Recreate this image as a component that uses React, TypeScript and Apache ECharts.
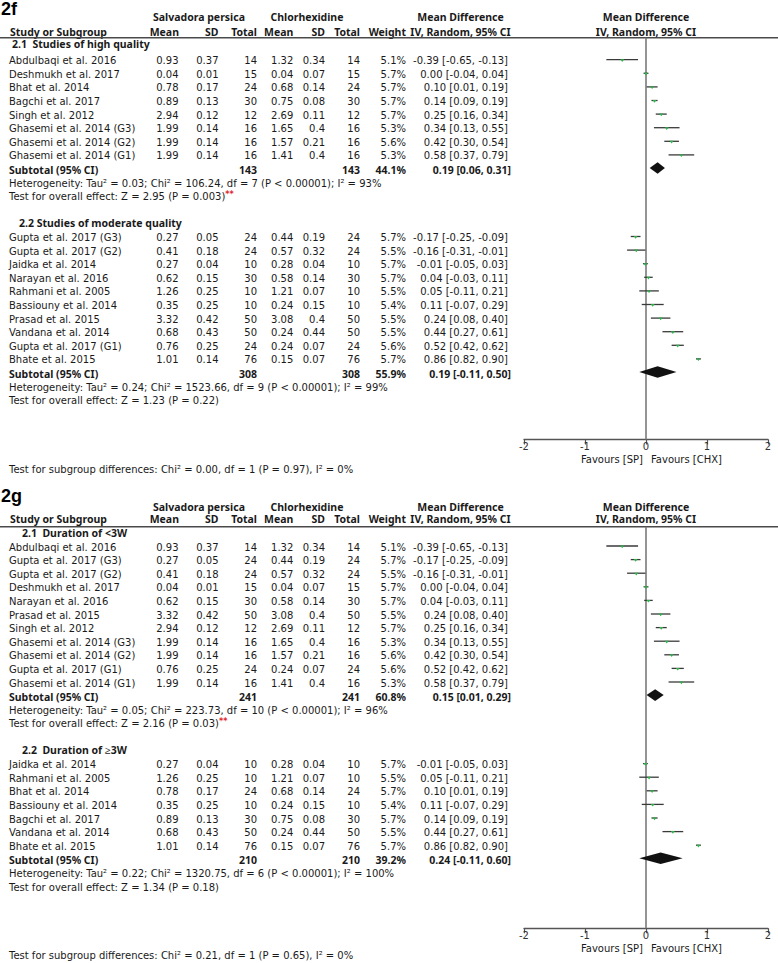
import React, { useEffect, useRef } from "react";
import * as echarts from "echarts";

// name, SP mean, SP SD, SP total, CHX mean, CHX SD, CHX total, weight %, MD, CI low, CI high
type Study = [string, number, number, number, number, number, number, number, number, number, number];
// SP total, CHX total, weight %, MD, CI low, CI high
type Sub = [number, number, number, number, number, number];

const fHighStudies: Study[] = [
  ["Abdulbaqi et al. 2016", 0.93, 0.37, 14, 1.32, 0.34, 14, 5.1, -0.39, -0.65, -0.13],
  ["Deshmukh et al. 2017", 0.04, 0.01, 15, 0.04, 0.07, 15, 5.7, 0.0, -0.04, 0.04],
  ["Bhat et al. 2014", 0.78, 0.17, 24, 0.68, 0.14, 24, 5.7, 0.1, 0.01, 0.19],
  ["Bagchi et al. 2017", 0.89, 0.13, 30, 0.75, 0.08, 30, 5.7, 0.14, 0.09, 0.19],
  ["Singh et al. 2012", 2.94, 0.12, 12, 2.69, 0.11, 12, 5.7, 0.25, 0.16, 0.34],
  ["Ghasemi et al. 2014 (G3)", 1.99, 0.14, 16, 1.65, 0.4, 16, 5.3, 0.34, 0.13, 0.55],
  ["Ghasemi et al. 2014 (G2)", 1.99, 0.14, 16, 1.57, 0.21, 16, 5.6, 0.42, 0.3, 0.54],
  ["Ghasemi et al. 2014 (G1)", 1.99, 0.14, 16, 1.41, 0.4, 16, 5.3, 0.58, 0.37, 0.79],
];
const fHighSubtotal: Sub = [143, 143, 44.1, 0.19, 0.06, 0.31];
const fHighStats = [
  "Heterogeneity: Tau² = 0.03; Chi² = 106.24, df = 7 (P < 0.00001); I² = 93%",
  "Test for overall effect: Z = 2.95 (P = 0.003)",
];

const fModStudies: Study[] = [
  ["Gupta et al. 2017 (G3)", 0.27, 0.05, 24, 0.44, 0.19, 24, 5.7, -0.17, -0.25, -0.09],
  ["Gupta et al. 2017 (G2)", 0.41, 0.18, 24, 0.57, 0.32, 24, 5.5, -0.16, -0.31, -0.01],
  ["Jaidka et al. 2014", 0.27, 0.04, 10, 0.28, 0.04, 10, 5.7, -0.01, -0.05, 0.03],
  ["Narayan et al. 2016", 0.62, 0.15, 30, 0.58, 0.14, 30, 5.7, 0.04, -0.03, 0.11],
  ["Rahmani et al. 2005", 1.26, 0.25, 10, 1.21, 0.07, 10, 5.5, 0.05, -0.11, 0.21],
  ["Bassiouny et al. 2014", 0.35, 0.25, 10, 0.24, 0.15, 10, 5.4, 0.11, -0.07, 0.29],
  ["Prasad et al. 2015", 3.32, 0.42, 50, 3.08, 0.4, 50, 5.5, 0.24, 0.08, 0.4],
  ["Vandana et al. 2014", 0.68, 0.43, 50, 0.24, 0.44, 50, 5.5, 0.44, 0.27, 0.61],
  ["Gupta et al. 2017 (G1)", 0.76, 0.25, 24, 0.24, 0.07, 24, 5.6, 0.52, 0.42, 0.62],
  ["Bhate et al. 2015", 1.01, 0.14, 76, 0.15, 0.07, 76, 5.7, 0.86, 0.82, 0.9],
];
const fModSubtotal: Sub = [308, 308, 55.9, 0.19, -0.11, 0.5];
const fModStats = [
  "Heterogeneity: Tau² = 0.24; Chi² = 1523.66, df = 9 (P < 0.00001); I² = 99%",
  "Test for overall effect: Z = 1.23 (P = 0.22)",
];
const fSubgroupDiff = "Test for subgroup differences: Chi² = 0.00, df = 1 (P = 0.97), I² = 0%";

const gShortStudies: Study[] = [
  ["Abdulbaqi et al. 2016", 0.93, 0.37, 14, 1.32, 0.34, 14, 5.1, -0.39, -0.65, -0.13],
  ["Gupta et al. 2017 (G3)", 0.27, 0.05, 24, 0.44, 0.19, 24, 5.7, -0.17, -0.25, -0.09],
  ["Gupta et al. 2017 (G2)", 0.41, 0.18, 24, 0.57, 0.32, 24, 5.5, -0.16, -0.31, -0.01],
  ["Deshmukh et al. 2017", 0.04, 0.01, 15, 0.04, 0.07, 15, 5.7, 0.0, -0.04, 0.04],
  ["Narayan et al. 2016", 0.62, 0.15, 30, 0.58, 0.14, 30, 5.7, 0.04, -0.03, 0.11],
  ["Prasad et al. 2015", 3.32, 0.42, 50, 3.08, 0.4, 50, 5.5, 0.24, 0.08, 0.4],
  ["Singh et al. 2012", 2.94, 0.12, 12, 2.69, 0.11, 12, 5.7, 0.25, 0.16, 0.34],
  ["Ghasemi et al. 2014 (G3)", 1.99, 0.14, 16, 1.65, 0.4, 16, 5.3, 0.34, 0.13, 0.55],
  ["Ghasemi et al. 2014 (G2)", 1.99, 0.14, 16, 1.57, 0.21, 16, 5.6, 0.42, 0.3, 0.54],
  ["Gupta et al. 2017 (G1)", 0.76, 0.25, 24, 0.24, 0.07, 24, 5.6, 0.52, 0.42, 0.62],
  ["Ghasemi et al. 2014 (G1)", 1.99, 0.14, 16, 1.41, 0.4, 16, 5.3, 0.58, 0.37, 0.79],
];
const gShortSubtotal: Sub = [241, 241, 60.8, 0.15, 0.01, 0.29];
const gShortStats = [
  "Heterogeneity: Tau² = 0.05; Chi² = 223.73, df = 10 (P < 0.00001); I² = 96%",
  "Test for overall effect: Z = 2.16 (P = 0.03)",
];

const gLongStudies: Study[] = [
  ["Jaidka et al. 2014", 0.27, 0.04, 10, 0.28, 0.04, 10, 5.7, -0.01, -0.05, 0.03],
  ["Rahmani et al. 2005", 1.26, 0.25, 10, 1.21, 0.07, 10, 5.5, 0.05, -0.11, 0.21],
  ["Bhat et al. 2014", 0.78, 0.17, 24, 0.68, 0.14, 24, 5.7, 0.1, 0.01, 0.19],
  ["Bassiouny et al. 2014", 0.35, 0.25, 10, 0.24, 0.15, 10, 5.4, 0.11, -0.07, 0.29],
  ["Bagchi et al. 2017", 0.89, 0.13, 30, 0.75, 0.08, 30, 5.7, 0.14, 0.09, 0.19],
  ["Vandana et al. 2014", 0.68, 0.43, 50, 0.24, 0.44, 50, 5.5, 0.44, 0.27, 0.61],
  ["Bhate et al. 2015", 1.01, 0.14, 76, 0.15, 0.07, 76, 5.7, 0.86, 0.82, 0.9],
];
const gLongSubtotal: Sub = [210, 210, 39.2, 0.24, -0.11, 0.6];
const gLongStats = [
  "Heterogeneity: Tau² = 0.22; Chi² = 1320.75, df = 6 (P < 0.00001); I² = 100%",
  "Test for overall effect: Z = 1.34 (P = 0.18)",
];
const gSubgroupDiff = "Test for subgroup differences: Chi² = 0.21, df = 1 (P = 0.65), I² = 0%";

const axisMin = -2;
const axisMax = 2;
const axisInterval = 1;
const favoursLeft = "Favours [SP]";
const favoursRight = "Favours [CHX]";

// ---------- layout ----------
const FONT = "DejaVu Sans";
const BFONT = "Noto Sans";
const FS = 10;
const BFS = 10.5;
const LH = 11;
const TXT = "#1a1a1a";
const COL = { name: 9, spMean: 178.5, spSD: 218.5, spN: 257, chxMean: 293.3, chxSD: 325, chxN: 360, weight: 406, ci: 508, ciBold: 511 };
const PLOT_L = 524;
const PLOT_R = 768;

interface Group {
  title: string; titleX: number; titleR: number; start: number;
  studies: Study[]; sub: Sub; stats: string[]; star: boolean;
}
interface Panel {
  label: string; lineY: number; y0: number; step: number; axisY: number;
  labelY: number; grpY: number; colY: number; diffY: number; diff: string; groups: Group[];
}

const panels: Panel[] = [
  {
    label: "2f", lineY: 37.7, y0: 60.7, step: 13.6, axisY: 439.5, labelY: 9, grpY: 17.3, colY: 31.5,
    diffY: 469, diff: fSubgroupDiff,
    groups: [
      { title: "2.1  Studies of high quality", titleX: 12, titleR: -1.25, start: 0, studies: fHighStudies, sub: fHighSubtotal, stats: fHighStats, star: true },
      { title: "2.2 Studies of moderate quality", titleX: 19, titleR: 11.93, start: 13, studies: fModStudies, sub: fModSubtotal, stats: fModStats, star: false },
    ],
  },
  {
    label: "2g", lineY: 526.7, y0: 547, step: 13.6, axisY: 928.3, labelY: 496, grpY: 506.7, colY: 519.3,
    diffY: 955, diff: gSubgroupDiff,
    groups: [
      { title: "2.1  Duration of <3W", titleX: 22, titleR: -1.0, start: 0, studies: gShortStudies, sub: gShortSubtotal, stats: gShortStats, star: true },
      { title: "2.2  Duration of ≥3W", titleX: 22, titleR: 14.93, start: 16, studies: gLongStudies, sub: gLongSubtotal, stats: gLongStats, star: false },
    ],
  },
];

const f2 = (v: number) => v.toFixed(2);
const ciText = (md: number, lo: number, hi: number) => `${f2(md)} [${f2(lo)}, ${f2(hi)}]`;

function txt(x: number, y: number, text: string, align: string, bold = false, extra: any = {}) {
  return {
    type: "text",
    x,
    y,
    silent: true,
    style: {
      text,
      fill: TXT,
      font: bold ? `bold ${BFS}px "${BFONT}"` : `${FS}px "${FONT}"`,
      lineHeight: LH,
      align,
      textAlign: align,
      verticalAlign: "middle",
      textVerticalAlign: "middle",
      ...extra,
    },
  };
}

function buildOption() {
  const graphics: any[] = [];
  const grids: any[] = [];
  const xAxes: any[] = [];
  const yAxes: any[] = [];
  const series: any[] = [];

  panels.forEach((p, pi) => {
    const rowY = (r: number) => p.y0 + r * p.step;
    const yMin = (p.lineY - p.y0) / p.step;
    const yMax = (p.axisY - p.y0) / p.step;

    // panel label
    graphics.push({
      type: "text", x: 1, y: p.labelY, silent: true,
      style: { text: p.label, fill: "#000", font: 'bold 18px "Liberation Sans"', lineHeight: 16, align: "left", textAlign: "left", verticalAlign: "middle", textVerticalAlign: "middle" },
    });
    // headers
    graphics.push(txt(199, p.grpY, "Salvadora persica", "center", true));
    graphics.push(txt(307, p.grpY, "Chlorhexidine", "center", true));
    graphics.push(txt(460.5, p.grpY, "Mean Difference", "center", true));
    graphics.push(txt(646, p.grpY, "Mean Difference", "center", true));
    graphics.push(txt(10, p.colY, "Study or Subgroup", "left", true));
    graphics.push(txt(179, p.colY, "Mean", "right", true));
    graphics.push(txt(218.5, p.colY, "SD", "right", true));
    graphics.push(txt(257, p.colY, "Total", "right", true));
    graphics.push(txt(293.3, p.colY, "Mean", "right", true));
    graphics.push(txt(325, p.colY, "SD", "right", true));
    graphics.push(txt(360, p.colY, "Total", "right", true));
    graphics.push(txt(406, p.colY, "Weight", "right", true));
    graphics.push(txt(460.5, p.colY, "IV, Random, 95% CI", "center", true));
    graphics.push(txt(646, p.colY, "IV, Random, 95% CI", "center", true));
    graphics.push({
      type: "line", silent: true,
      shape: { x1: 0, y1: p.lineY, x2: 778, y2: p.lineY },
      style: { stroke: "#4a4a4a", lineWidth: 1.5 },
    });

    const studyData: number[][] = [];
    const diamondData: number[][] = [];

    p.groups.forEach((g) => {
      graphics.push(txt(g.titleX, rowY(g.titleR), g.title, "left", true));
      g.studies.forEach((s, i) => {
        const r = g.start + i;
        const y = rowY(r);
        graphics.push(txt(COL.name, y, s[0], "left"));
        graphics.push(txt(COL.spMean, y, String(s[1]), "right"));
        graphics.push(txt(COL.spSD, y, String(s[2]), "right"));
        graphics.push(txt(COL.spN, y, String(s[3]), "right"));
        graphics.push(txt(COL.chxMean, y, String(s[4]), "right"));
        graphics.push(txt(COL.chxSD, y, String(s[5]), "right"));
        graphics.push(txt(COL.chxN, y, String(s[6]), "right"));
        graphics.push(txt(COL.weight, y, `${s[7].toFixed(1)}%`, "right"));
        graphics.push(txt(COL.ci, y, ciText(s[8], s[9], s[10]), "right"));
        studyData.push([s[9], s[10], s[8], r]);
      });
      const rs = g.start + g.studies.length;
      const ys = rowY(rs);
      const sb = g.sub;
      graphics.push(txt(COL.name, ys, "Subtotal (95% CI)", "left", true));
      graphics.push(txt(COL.spN, ys, String(sb[0]), "right", true));
      graphics.push(txt(COL.chxN, ys, String(sb[1]), "right", true));
      graphics.push(txt(COL.weight, ys, `${sb[2].toFixed(1)}%`, "right", true));
      graphics.push(txt(COL.ciBold, ys, ciText(sb[3], sb[4], sb[5]), "right", true));
      diamondData.push([sb[4], sb[5], sb[3], rs]);
      graphics.push(txt(COL.name, rowY(rs + 1), g.stats[0], "left"));
      if (g.star) {
        graphics.push(txt(COL.name, rowY(rs + 2), `{a|${g.stats[1]}}{s|**}`, "left", false, {
          rich: {
            a: { fill: TXT, font: `${FS}px "${FONT}"`, lineHeight: LH },
            s: { fill: "#e0262b", font: `bold 8px "${FONT}"`, padding: [0, 0, 5, 0], lineHeight: LH },
          },
        }));
      } else {
        graphics.push(txt(COL.name, rowY(rs + 2), g.stats[1], "left"));
      }
    });

    graphics.push(txt(9, p.diffY, p.diff, "left"));
    graphics.push(txt(643, p.axisY + 20, favoursLeft, "right"));
    graphics.push(txt(651, p.axisY + 20, favoursRight, "left"));

    grids.push({ left: PLOT_L, width: PLOT_R - PLOT_L, top: p.lineY, height: p.axisY - p.lineY, containLabel: false });
    xAxes.push({
      type: "value", gridIndex: pi, min: axisMin, max: axisMax, interval: axisInterval, position: "bottom",
      axisLine: { show: true, onZero: false, lineStyle: { color: "#555", width: 1.3 } },
      axisTick: { show: true, length: 5, lineStyle: { color: "#555", width: 1.2 } },
      axisLabel: { color: "#333", fontSize: FS, fontFamily: FONT, margin: 2 },
      splitLine: { show: false },
    });
    yAxes.push({ type: "value", gridIndex: pi, min: yMin, max: yMax, inverse: true, show: false, splitLine: { show: false } });

    series.push({
      type: "line", xAxisIndex: pi, yAxisIndex: pi, silent: true, symbol: "none", z: 1,
      data: [[0, yMin], [0, yMax]],
      lineStyle: { color: "#7a7a7a", width: 1.6 },
    });
    series.push({
      type: "custom", xAxisIndex: pi, yAxisIndex: pi, silent: true, z: 3,
      encode: { x: [0, 1, 2], y: 3 },
      data: studyData,
      renderItem: (_params: any, api: any) => {
        const lo = api.coord([api.value(0), api.value(3)]);
        const hi = api.coord([api.value(1), api.value(3)]);
        const md = api.coord([api.value(2), api.value(3)]);
        const y = md[1] - 1;
        return {
          type: "group",
          children: [
            { type: "line", shape: { x1: lo[0], y1: y, x2: hi[0], y2: y }, style: { stroke: "#3a3a3a", lineWidth: 1.3 } },
            { type: "polygon", shape: { points: [[md[0] - 2, y - 0.5], [md[0] + 2, y - 0.5], [md[0], y + 2.2]] }, style: { fill: "#2fb44c" } },
          ],
        };
      },
    });
    series.push({
      type: "custom", xAxisIndex: pi, yAxisIndex: pi, silent: true, z: 3,
      encode: { x: [0, 1, 2], y: 3 },
      data: diamondData,
      renderItem: (_params: any, api: any) => {
        const lo = api.coord([api.value(0), api.value(3)]);
        const hi = api.coord([api.value(1), api.value(3)]);
        const md = api.coord([api.value(2), api.value(3)]);
        const y = md[1] - 1.5;
        return {
          type: "polygon",
          shape: { points: [[lo[0], y], [md[0], y - 5.8], [hi[0], y], [md[0], y + 5.8]] },
          style: { fill: "#111" },
        };
      },
    });
  });

  return {
    animation: false,
    backgroundColor: "#fff",
    textStyle: { fontFamily: FONT },
    grid: grids,
    xAxis: xAxes,
    yAxis: yAxes,
    series,
    graphic: { elements: graphics },
  };
}

export default function App() {
  const ref = useRef<HTMLDivElement>(null);
  useEffect(() => {
    if (!ref.current) return;
    const chart = echarts.init(ref.current, undefined, { renderer: "svg" });
    chart.setOption(buildOption() as any);
    return () => chart.dispose();
  }, []);
  return (
    <div
      ref={ref}
      style={{ position: "absolute", left: 0, top: 0, width: 778, height: 963, background: "#fff" }}
    />
  );
}
